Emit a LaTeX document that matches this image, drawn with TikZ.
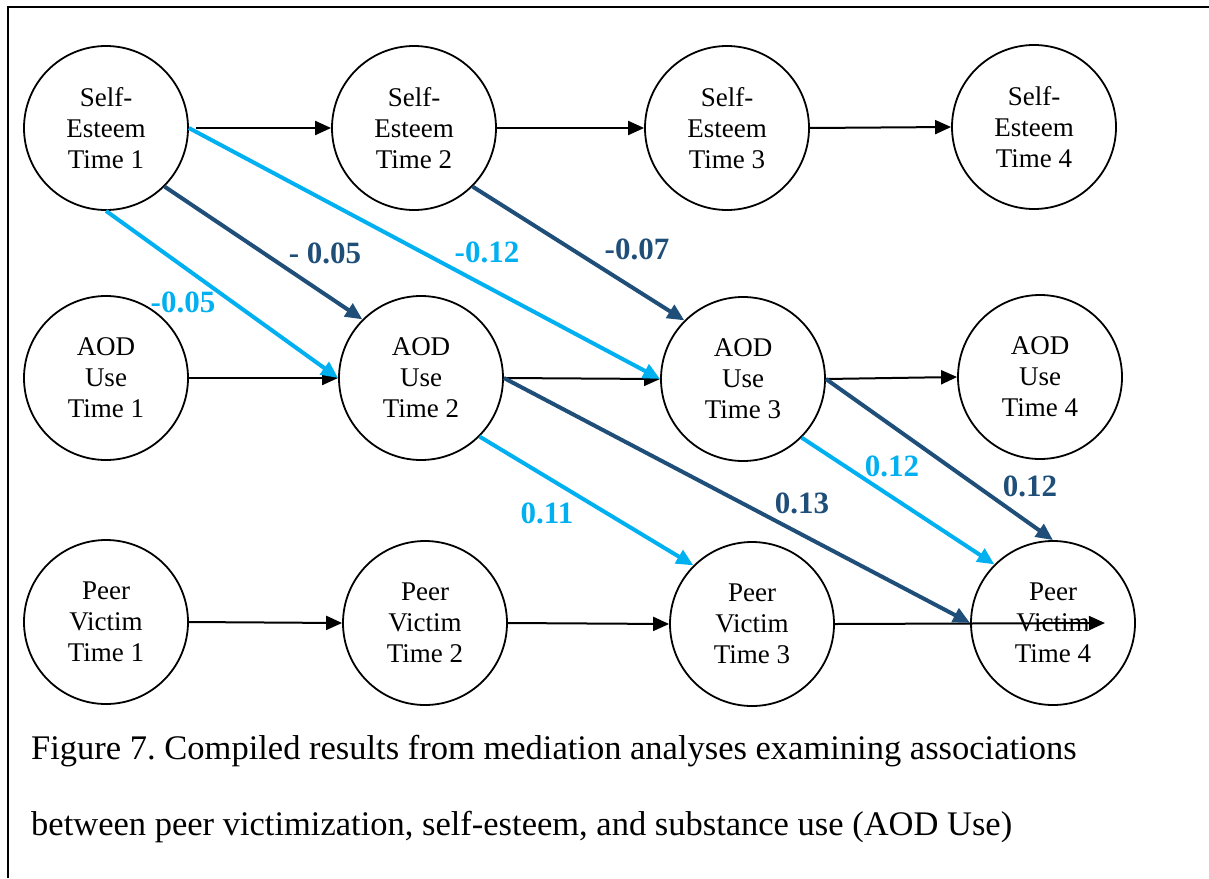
\documentclass[tikz,border=0pt]{standalone}
\usepackage{fontspec}
\newfontfamily\capfont{Liberation Serif}
\usetikzlibrary{arrows.meta,calc}
\definecolor{lightb}{HTML}{00B0F0}
\definecolor{darkb}{HTML}{1F4E79}
\frenchspacing
\begin{document}
\begin{tikzpicture}[x=1pt,y=-1pt,
  var/.style={circle,draw=black,line width=1.8pt,minimum size=164pt,inner sep=0pt,
    align=center,font=\capfont\fontsize{27}{31}\selectfont},
  blk/.style={line width=2pt,-{Triangle[length=16pt,width=14pt]}},
  lb/.style={line width=4pt,color=lightb,-{Triangle[length=17pt,width=15pt]}},
  db/.style={line width=4pt,color=darkb,-{Triangle[length=17pt,width=15pt]}},
  lbl/.style={font=\capfont\fontsize{31}{34}\selectfont\bfseries},
  captxt/.style={anchor=base west,inner sep=0pt,font=\capfont\fontsize{34.5}{38}\selectfont}]
\useasboundingbox (0,0) rectangle (1209,878);
\draw[line width=2pt] (8,878) -- (8,7) -- (1209,7);
% row 1
\node[var] (s1) at (106,128) {Self-\\Esteem\\Time 1};
\node[var] (s2) at (414,128) {Self-\\Esteem\\Time 2};
\node[var] (s3) at (727,128) {Self-\\Esteem\\Time 3};
\node[var] (s4) at (1034,127) {Self-\\Esteem\\Time 4};
% row 2
\node[var] (a1) at (106,378) {AOD\\Use\\Time 1};
\node[var] (a2) at (421,378) {AOD\\Use\\Time 2};
\node[var] (a3) at (743,379) {AOD\\Use\\Time 3};
\node[var] (a4) at (1040,377) {AOD\\Use\\Time 4};
% row 3
\node[var] (p1) at (106,622) {Peer\\Victim\\Time 1};
\node[var] (p2) at (425,623) {Peer\\Victim\\Time 2};
\node[var] (p3) at (752,624) {Peer\\Victim\\Time 3};
\node[var] (p4) at (1053,623) {Peer\\Victim\\Time 4};
\coordinate (p4tip) at ($(p4.center)+(52,0)$);
% black autoregressive paths
\draw[blk,shorten <=7pt] (s1.east) -- (s2.west);
\draw[blk] (s2.east) -- (s3.west);
\draw[blk] (s3.east) -- (s4.west);
\draw[blk] (a1.east) -- (a2.west);
\draw[blk] (a2.east) -- (a3.west);
\draw[blk] (a3.east) -- (a4.west);
\draw[blk] (p1.east) -- (p2.west);
\draw[blk] (p2.east) -- (p3.west);
\draw[blk] (p3.east) -- (p4tip);
% coloured paths
\draw[lb] (s1.south) -- (a2.west);
\draw[db] (s1.-45) -- (a2.135);
\draw[lb] (s1.east) -- (a3.west);
\draw[db] (s2.-45) -- (a3.135);
\draw[db] (a2.east) -- (p4.west);
\draw[lb] (a2.-45) -- (p3.135);
\draw[lb] (a3.-45) -- (p4.135);
\draw[db] (a3.east) -- (p4.north);
% labels
\node[lbl,darkb] (l1) at (325,253) {- 0.05};
\node[lbl,lightb] (l2) at (487,252) {-0.12};
\node[lbl,lightb] (l3) at (183,302) {-0.05};
\node[lbl,darkb] (l4) at (637,249) {-0.07};
\node[lbl,lightb] (l5) at (892,466) {0.12};
\node[lbl,darkb] (l6) at (1030,486) {0.12};
\node[lbl,darkb] (l7) at (802,503) {0.13};
\node[lbl,lightb] (l8) at (547,513) {0.11};
% caption
\node[captxt] (c1) at (31,759) {Figure 7. Compiled results from mediation analyses examining associations};
\node[captxt] (c2) at (31,835) {between peer victimization, self-esteem, and substance use (AOD Use)};
\end{tikzpicture}
\end{document}
